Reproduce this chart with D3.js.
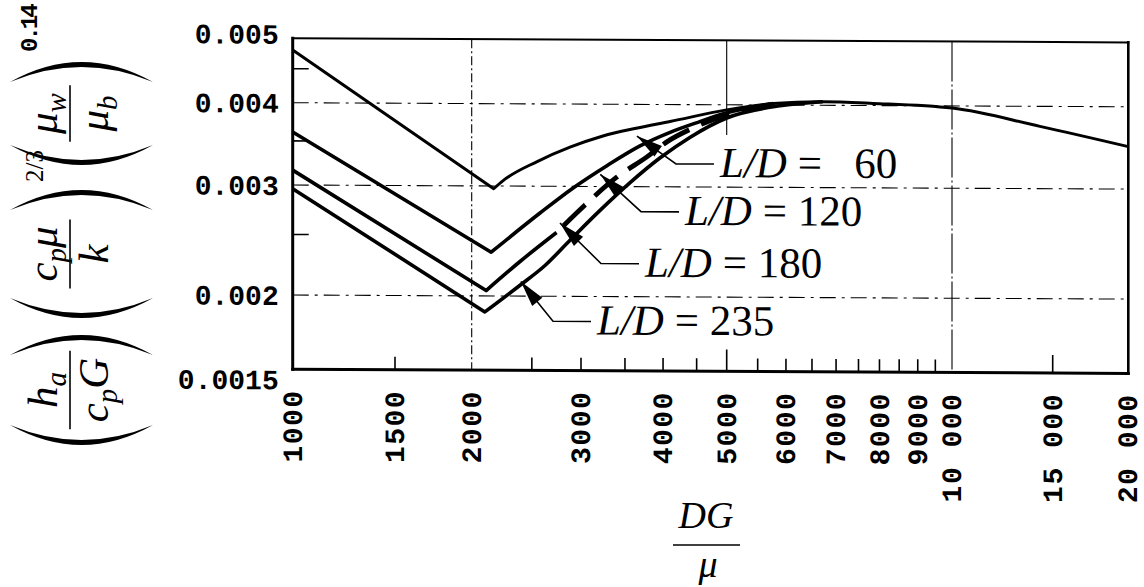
<!DOCTYPE html>
<html>
<head>
<meta charset="utf-8">
<script src="https://cdn.jsdelivr.net/npm/d3@7"></script>
<style>
  body { margin: 0; background: #fff; }
  svg { display: block; }
  .tick-lbl { font-family: "Liberation Mono", monospace; font-weight: bold; font-size: 28px; fill: #000; }
  .math { font-family: "Liberation Serif", serif; fill: #000; }
</style>
</head>
<body>
<svg id="chart" width="1144" height="587"></svg>
<script>
// tick values
const xTickLabels = [1000, 1500, 2000, 3000, 4000, 5000, 6000, 7000, 8000, 9000, 10000, 15000, 20000];
const xMinorTicks = [1500, 2500, 3000, 3500, 4000, 4500, 5500, 6000, 6500, 7000, 7500, 8000, 8500, 9000, 9500];
const yTickLabels = [0.0015, 0.002, 0.003, 0.004, 0.005];
const yMinorTicks = [0.0025, 0.0035, 0.0045];

// curves: DG/mu vs j-factor (second point is the kink)
const reLD60 = [1000, 2170, 2250, 2550, 2880, 3240, 3640, 4100, 5000, 5770, 6720, 7840, 10000, 14250, 20000];
const jLD60 = [0.0048, 0.00297, 0.00306, 0.00327, 0.00344, 0.00358, 0.00368, 0.00377, 0.00393, 0.00402, 0.00405, 0.00403, 0.00397, 0.00373, 0.00348];
const reLD120 = [1000, 2150, 2580, 2910, 3290, 3690, 4100, 4550, 5000, 5770];
const jLD120 = [0.00361, 0.00235, 0.00272, 0.00298, 0.00323, 0.00346, 0.00363, 0.00377, 0.00389, 0.00402];
const reLD180 = [1000, 2110, 2390, 2740, 3040, 3400, 3780, 4070, 4400, 5000, 5890];
const jLD180 = [0.00316, 0.00204, 0.00227, 0.00253, 0.0028, 0.0031, 0.00333, 0.00352, 0.00367, 0.00386, 0.00403];
const reLD235 = [1000, 2100, 2390, 2625, 2880, 3210, 3560, 3960, 4400, 5000, 5890, 6720];
const jLD235 = [0.00296, 0.00188, 0.00208, 0.00224, 0.00246, 0.00275, 0.00304, 0.00332, 0.00357, 0.00382, 0.00399, 0.00405];

// label texts and where their arrows point
const ldValues = ['  60', '120', '180', '235'];
const tipRe = [3650, 3210, 2775, 2400];
const tipJ = [0.00358, 0.00313, 0.00262, 0.00211];

const series = [
  { re: reLD60, j: jLD60, w: 3 },
  { re: reLD120, j: jLD120, w: 3.6 },
  { re: reLD180, j: jLD180, w: 3.6, dashFrom: 2740 },
  { re: reLD235, j: jLD235, w: 3.6 }
];

const svg = d3.select('#chart');

const x = d3.scaleLog()
  .domain([1000, 1500, 2000, 3000, 5000, 10000, 15000, 20000])
  .range([292.7, 395, 471.7, 581, 726.7, 952, 1052.7, 1128.3]);

const y = d3.scaleLog()
  .domain([0.0015, 0.002, 0.003, 0.004, 0.005])
  .range([369.3, 295, 185, 102.7, 38.3]);

const x0 = x(1000), x1 = x(20000), yTop = y(0.005), yBot = y(0.0015);

// scanned page is slightly skewed
const plot = svg.append('g')
  .attr('transform', `translate(${x0},0) skewY(0.28) translate(${-x0},0)`);

// grid
const grid = plot.append('g').attr('stroke', '#000').attr('fill', 'none');
[2000, 10000].forEach(v => {
  grid.append('line')
    .attr('x1', x(v)).attr('x2', x(v)).attr('y1', yTop).attr('y2', yBot)
    .attr('stroke-width', 1.1)
    .attr('stroke-dasharray', v === 2000 ? '9,3,2,3' : '40,3,2,3');
});
grid.append('line')
  .attr('x1', x(5000)).attr('x2', x(5000)).attr('y1', yTop).attr('y2', y(0.0036))
  .attr('stroke-width', 1.1);
[0.002, 0.003, 0.004].forEach(v => {
  grid.append('line')
    .attr('x1', x0).attr('x2', x1).attr('y1', y(v)).attr('y2', y(v))
    .attr('stroke-width', 1.1)
    .attr('stroke-dasharray', '16,6,3,6');
});

// minor ticks
plot.append('g').selectAll('line')
  .data(xMinorTicks.concat([5000, 15000]))
  .join('line')
  .attr('x1', d => x(d)).attr('x2', d => x(d))
  .attr('y1', yBot)
  .attr('y2', d => yBot - (d === 5000 ? 22 : d === 15000 ? 18 : 13))
  .attr('stroke', '#000').attr('stroke-width', 1.6);

plot.append('g').selectAll('line')
  .data(yMinorTicks)
  .join('line')
  .attr('x1', x0).attr('x2', x0 + 16)
  .attr('y1', d => y(d)).attr('y2', d => y(d))
  .attr('stroke', '#000').attr('stroke-width', 1.6);

// frame
const frame = plot.append('g').attr('stroke', '#000').attr('stroke-linecap', 'square');
frame.append('line').attr('x1', x0).attr('x2', x1).attr('y1', yTop).attr('y2', yTop).attr('stroke-width', 2);
frame.append('line').attr('x1', x1).attr('x2', x1).attr('y1', yTop).attr('y2', yBot).attr('stroke-width', 2.6);
frame.append('line').attr('x1', x0).attr('x2', x1).attr('y1', yBot).attr('y2', yBot).attr('stroke-width', 3);
frame.append('line').attr('x1', x0).attr('x2', x0).attr('y1', yTop).attr('y2', yBot).attr('stroke-width', 3);

// X axis labels
const fmtX = d => d >= 10000 ? d3.format(',')(d).replace(',', ' ') : String(d);
const xAxis = d3.axisBottom(x).tickValues(xTickLabels).tickSize(0).tickFormat(fmtX);
const gx = plot.append('g').attr('transform', `translate(0,${yBot})`).call(xAxis);
gx.select('.domain').remove();
gx.selectAll('text')
  .attr('class', 'tick-lbl')
  .attr('font-family', null).attr('font-size', null)
  .style('letter-spacing', '1.5px')
  .style('white-space', 'pre')
  .attr('transform', 'rotate(-90)')
  .attr('x', -20).attr('y', 0).attr('dy', '0.31em')
  .attr('text-anchor', 'end');

// Y axis labels
const fmtY = d => d === 0.0015 ? '0.0015' : d3.format('.3f')(d);
const yAxis = d3.axisLeft(y).tickValues(yTickLabels).tickSize(0).tickPadding(14).tickFormat(fmtY);
const gy = plot.append('g').attr('transform', `translate(${x0},0)`).call(yAxis);
gy.select('.domain').remove();
gy.selectAll('text')
  .attr('class', 'tick-lbl')
  .attr('font-family', null).attr('font-size', null)
  .attr('dy', d => d === 0.0015 ? '0.7em' : d === 0.005 ? '0.18em' : '0.34em');

// curves: straight laminar part to the kink, smooth rise after it
const straight = d3.line().x(d => x(d[0])).y(d => y(d[1]));
const smooth = d3.line().x(d => x(d[0])).y(d => y(d[1])).curve(d3.curveMonotoneX);
const curvePath = pts => straight(pts.slice(0, 2)) + smooth(pts.slice(1)).replace(/^M/, 'L');

series.forEach(s => {
  const pts = s.re.map((r, i) => [r, s.j[i]]);
  const solid = s.dashFrom ? pts.filter(p => p[0] <= s.dashFrom) : pts;
  plot.append('path').attr('d', curvePath(solid))
    .attr('fill', 'none').attr('stroke', '#000').attr('stroke-width', s.w)
    .attr('stroke-linejoin', 'round');
  if (s.dashFrom) {
    plot.append('path').attr('d', smooth(pts.filter(p => p[0] >= s.dashFrom)))
      .attr('fill', 'none').attr('stroke', '#000').attr('stroke-width', 4.8)
      .attr('stroke-dasharray', '30,13').attr('stroke-dashoffset', -10);
  }
});

// L/D labels with leader arrows
const labelPos = [[720, 175], [685, 223], [645, 275], [597, 333]];
ldValues.forEach((v, i) => {
  const [lx, ly] = labelPos[i];
  const t = plot.append('text').attr('class', 'math')
    .attr('x', lx).attr('y', ly)
    .attr('font-size', 43)
    .style('white-space', 'pre');
  t.append('tspan').attr('font-style', 'italic').text('L/D');
  t.append('tspan').text(' = ' + v);

  const ex = lx - 6, ey = ly - 13;
  const bx = ex - 38;
  const tx = x(tipRe[i]), ty = y(tipJ[i]);
  plot.append('path')
    .attr('d', `M${ex},${ey}L${bx},${ey}L${tx},${ty}`)
    .attr('fill', 'none').attr('stroke', '#000').attr('stroke-width', 1.6);
  const ang = Math.atan2(ey - ty, bx - tx);
  const L = 26, W = 6.5;
  const ax = tx + L * Math.cos(ang), ay = ty + L * Math.sin(ang);
  const px = -Math.sin(ang) * W, py = Math.cos(ang) * W;
  plot.append('path')
    .attr('d', `M${tx},${ty}L${ax + px},${ay + py}L${ax - px},${ay - py}Z`)
    .attr('fill', '#000');
});

// X title DG / mu
const xt = svg.append('g').attr('class', 'math').attr('font-style', 'italic').attr('font-size', 38);
xt.append('text').attr('x', 706).attr('y', 528).attr('text-anchor', 'middle').text('DG');
xt.append('line').attr('x1', 673).attr('x2', 740).attr('y1', 545).attr('y2', 545)
  .attr('stroke', '#000').attr('stroke-width', 1.6);
xt.append('text').attr('x', 708).attr('y', 577).attr('text-anchor', 'middle').text('μ');

// Y title, written in a rotated frame
const yt = svg.append('g').attr('transform', 'translate(70,445) rotate(-90)');

function paren(xm, side) {
  const top = -60, bot = 83, yc = (top + bot) / 2, d = 20, th = 5;
  const s = side === 'L' ? 1 : -1;
  return `M${xm + s * d},${top}Q${xm - s * d},${yc} ${xm + s * d},${bot}` +
    `Q${xm - s * d + s * 2 * th},${yc} ${xm + s * d},${top}Z`;
}

function addParts(textSel, parts) {
  let shifted = false;
  parts.forEach(([str, sub]) => {
    const ts = textSel.append('tspan').text(str);
    if (sub && !shifted) { ts.attr('dy', 9).attr('font-size', 29); shifted = true; }
    else if (!sub && shifted) { ts.attr('dy', -9); shifted = false; }
    else if (sub) ts.attr('font-size', 29);
  });
}

const groups = [
  { l: 0, r: 110, num: [['h'], ['a', 1]], den: [['c'], ['p', 1], ['G']] },
  { l: 127, r: 255, num: [['c'], ['p', 1], ['μ']], den: [['k']] },
  { l: 280, r: 383, num: [['μ'], ['w', 1]], den: [['μ'], ['b', 1]] }
];

groups.forEach(g => {
  yt.append('path').attr('d', paren(g.l, 'L')).attr('fill', '#000');
  yt.append('path').attr('d', paren(g.r, 'R')).attr('fill', '#000');
  const cx = (g.l + g.r) / 2;
  const num = yt.append('text').attr('class', 'math').attr('font-style', 'italic')
    .attr('font-size', 43).attr('x', cx).attr('y', -13).attr('text-anchor', 'middle');
  addParts(num, g.num);
  const den = yt.append('text').attr('class', 'math').attr('font-style', 'italic')
    .attr('font-size', 43).attr('x', cx).attr('y', 38).attr('text-anchor', 'middle');
  addParts(den, g.den);
  const w = Math.max(num.node().getBBox().width, den.node().getBBox().width) + 14;
  yt.append('line').attr('x1', cx - w / 2).attr('x2', cx + w / 2).attr('y1', 0).attr('y2', 0)
    .attr('stroke', '#000').attr('stroke-width', 1.6);
});

yt.append('text').attr('class', 'math').attr('font-size', 25)
  .attr('x', 263).attr('y', -27).text('2/3');
yt.append('text').attr('class', 'tick-lbl').style('font-size', '24px').style('letter-spacing', '-3px')
  .attr('x', 393).attr('y', -33).text('0.14');
</script>
</body>
</html>
